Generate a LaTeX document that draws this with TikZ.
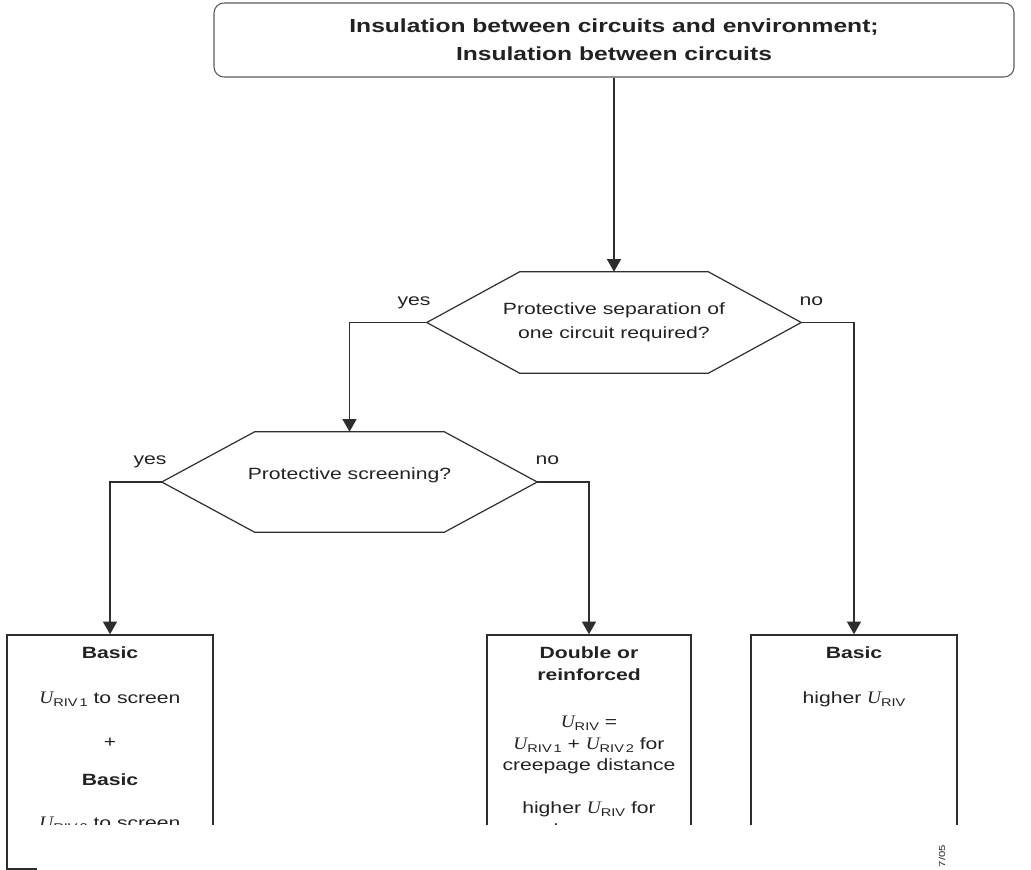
\documentclass[tikz,border=0pt]{standalone}
\usepackage{fontspec}
\setmainfont{Liberation Sans}[FakeStretch=1.3]
\newfontfamily\serifit{Liberation Serif}[FakeStretch=1.1,Scale=1.08,UprightFont=*-Italic]
\usetikzlibrary{arrows.meta,calc}

\definecolor{textc}{HTML}{222222}
\definecolor{linec}{HTML}{2E2E2E}
\definecolor{framec}{HTML}{5A5A5A}

\newcommand\body{\fontsize{12.2pt}{18pt}\selectfont}
\newcommand\titlefont{\fontsize{14.2pt}{21pt}\selectfont\bfseries}
% U with the RIV subscript
\newcommand\Uriv[1]{{\serifit U}\raisebox{-0.35ex}{\fontsize{8.4pt}{8.4pt}\selectfont RIV#1}}

\tikzset{
  wire/.style={draw=linec, line width=1.1pt},
  arr/.style={wire, -{Triangle[length=9.5pt,width=10.5pt]}},
  hexnode/.style={minimum width=280.5pt, minimum height=75.75pt, inner sep=0pt,
                  align=center, font=\body, text=textc},
  hexline/.style={draw=linec, line width=0.9pt, line join=miter},
  outbox/.style={draw=linec, line width=1.1pt, minimum height=175.5pt, inner sep=0pt},
  txt/.style={inner sep=0pt, text height=8.7pt, text depth=0pt, font=\body, text=textc},
  btxt/.style={txt, font=\body\bfseries},
}

\begin{document}
\begin{tikzpicture}[x=0.75pt, y=-0.75pt]
\useasboundingbox (0,0) rectangle (1031,870);

% title box
\node[draw=framec, line width=0.8pt, rounded corners=7.5pt, minimum width=600pt,
      minimum height=55.5pt, align=center, font=\titlefont, text=textc, inner sep=0pt]
      (top) at (614,40) {Insulation between circuits and environment;\\Insulation between circuits};

% decision hexagons
\node[hexnode] (q1) at (614,322.5) {Protective separation of\\one circuit required?};
\draw[hexline] (q1.west) -- ($(q1.north west)+(93,0)$) -- ($(q1.north east)+(-93,0)$)
  -- (q1.east) -- ($(q1.south east)+(-93,0)$) -- ($(q1.south west)+(93,0)$) -- cycle;

\node[hexnode, minimum width=281.25pt, minimum height=75pt] (q2) at (349.5,482) {Protective screening?\\[-6pt]\phantom{x}};
\draw[hexline] (q2.west) -- ($(q2.north west)+(93,0)$) -- ($(q2.north east)+(-93,0)$)
  -- (q2.east) -- ($(q2.south east)+(-93,0)$) -- ($(q2.south west)+(93,0)$) -- cycle;

% outcome boxes
\node[outbox, minimum width=154.5pt] (b1) at (110,752) {};
\node[outbox, minimum width=153pt]   (b2) at (589,752) {};
\node[outbox, minimum width=154.5pt] (b3) at (854,752) {};

% connectors
\draw[arr] (top.south) -- (q1.north);
\draw[arr] (q1.west) -| (q2.north);
\draw[arr] (q1.east) -| (b3.north);
\draw[arr] (q2.west) -| (b1.north);
\draw[arr] (q2.east) -| (b2.north);

% branch labels
\node[txt, anchor=south east] (y1) at ($(q1.west)+(4,-17)$) {yes};
\node[txt, anchor=south west] (n1) at ($(q1.east)+(-2,-17)$) {no};
\node[txt, anchor=south east] (y2) at ($(q2.west)+(5,-17)$) {yes};
\node[txt, anchor=south west] (n2) at ($(q2.east)+(-2,-17)$) {no};

% left box text
\node[btxt] (l1) at (110,653) {Basic};
\node[txt]  (l2) at (110,698) {\Uriv{\,1} to screen};
\node[txt]  (l3) at (110,742) {+};
\node[btxt] (l4) at (110,780) {Basic};
\node[txt]  (l5) at (110,823) {\Uriv{\,2} to screen};

% middle box text
\node[btxt] (m1) at (589,653) {Double or};
\node[btxt] (m2) at (589,675) {reinforced};
\node[txt]  (m3) at (589,722) {\Uriv{} =};
\node[txt]  (m4) at (589,743.5) {\Uriv{\,1} + \Uriv{\,2} for};
\node[txt]  (m5) at (589,765) {creepage distance};
\node[txt]  (m6) at (589,808) {higher \Uriv{} for};
\node[txt]  (m7) at (589,830) {clearance};

% right box text
\node[btxt] (r1) at (854,653) {Basic};
\node[txt]  (r2) at (854,698) {higher \Uriv{}};

% page cut below the boxes
\fill[white] (10,825) rectangle (1032,866.5);
\fill[white] (37,866.5) rectangle (1032,872);

% figure number fragment
\node[rotate=90, anchor=east, inner sep=0pt, font=\fontsize{6.5pt}{6.5pt}\selectfont, text=textc]
  (fig) at (942,845) {7/05};
\end{tikzpicture}
\end{document}
